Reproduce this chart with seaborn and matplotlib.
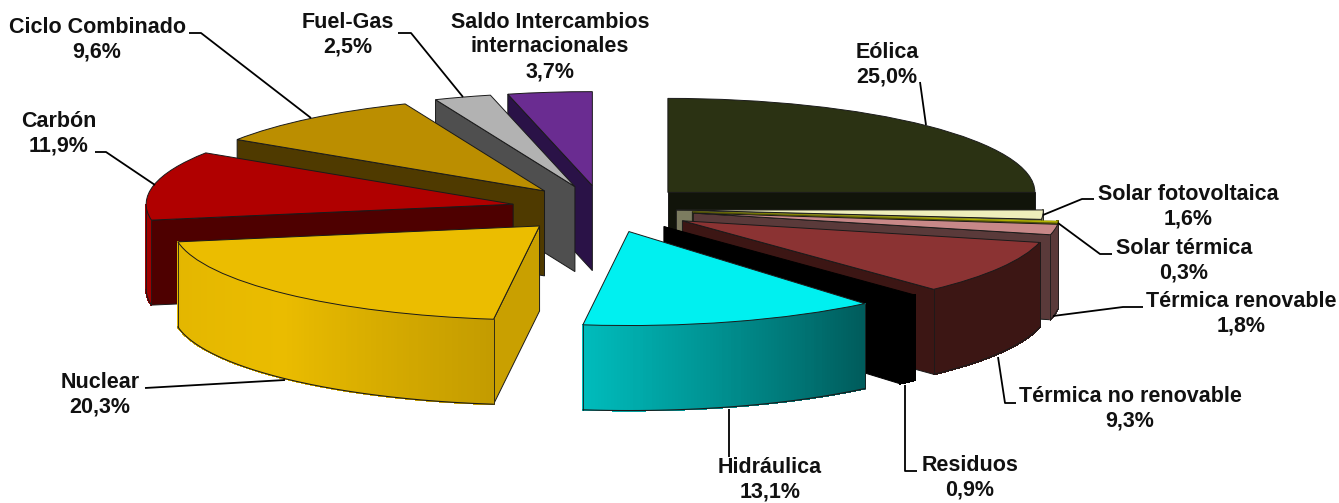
import numpy as np
import matplotlib
matplotlib.use("Agg")
import matplotlib.pyplot as plt
import seaborn as sns

# Generation mix, share in percent, clockwise from 12 o'clock
names = ["Eólica", "Solar fotovoltaica", "Solar térmica", "Térmica renovable",
         "Térmica no renovable", "Residuos", "Hidráulica", "Nuclear", "Carbón",
         "Ciclo Combinado", "Fuel-Gas", "Saldo Intercambios\ninternacionales"]
shares = [25.0, 1.6, 0.3, 1.8, 9.3, 0.9, 13.1, 20.3, 11.9, 9.6, 2.5, 3.7]
explode = [0.25, 0.2, 0.245, 0.25, 0.25, 0.25, 0.25, 0.25, 0.25, 0.25, 0.25, 0.25]

top_colors = ["#2B3213", "#EEEEBB", "#B3B300", "#C88888", "#8B3333", "#000000",
              "#00F0F0", "#EBBD00", "#B00000", "#BB8E00", "#B2B2B2", "#6A2C91"]
side_colors = ["#11140A", "#7C7C60", "#6B6B00", "#5A3A3A", "#3C1614", "#000000",
               "#005C5C", "#C9A000", "#4E0000", "#4F3A00", "#4F4F4F", "#2A1247"]
# colour stops of the curved outer wall, left to right
arc_colors = [("#11140A", "#11140A"), ("#7C7C60", "#7C7C60"), ("#6B6B00", "#6B6B00"),
              ("#5A3A3A", "#5A3A3A"), ("#3C1614", "#3C1614"), ("#000000", "#000000"),
              ("#00BCBC", "#005C5C"), ("#E3B600", "#EABC00", "#C49C00"), ("#A00000", "#A00000"),
              ("#4F3A00", "#4F3A00"), ("#4F4F4F", "#4F4F4F"), ("#2A1247", "#2A1247")]

# label centres and leader lines, in pixels
label_pos = [(887, 65), (1188, 207), (1184, 261), (1241, 314), (1130, 409), (970, 478),
             (770, 480), (100, 395), (59, 134), (97, 40), (348, 35), (550, 47)]
leaders = [[(920, 82), (926, 125)],
           [(1094, 199), (1082, 199), (1043, 215)],
           [(1112, 254), (1100, 254), (1058, 223)],
           [(1143, 307), (1123, 307), (1053, 316)],
           [(1016, 403), (1005, 403), (998, 357)],
           [(917, 471), (905, 471), (905, 385)],
           [(729, 457), (729, 409)],
           [(145, 388), (285, 380)],
           [(95, 152), (106, 152), (155, 185)],
           [(189, 33), (201, 33), (311, 118)],
           [(398, 33), (411, 33), (463, 97)]]

W, H = 1339, 503
CX, CY = 603, 209
RX, RY = 367, 94
DEPTH = 85 / RY
EDGE = "#1a1a1a"


def px(x, y):
    return (x - CX) / RX, (CY - y) / RY


sns.set_theme(style="white")
plt.rcParams["font.family"] = ["Liberation Sans", "DejaVu Sans"]

fig = plt.figure(figsize=(W / 100, H / 100), dpi=100)
ax = fig.add_axes([0, 0, 1, 1])

wedges, _ = ax.pie(shares, explode=explode, colors=top_colors, startangle=90,
                   counterclock=False, radius=1,
                   wedgeprops=dict(edgecolor=EDGE, linewidth=0.7))
ax.set_aspect("auto")
ax.set_xlim(px(0, 0)[0], px(W, 0)[0])
ax.set_ylim(px(0, H)[1], px(0, 0)[1])
ax.axis("off")
# the sliver would be all outline otherwise
wedges[2].set_edgecolor("#8A8A00")
wedges[2].set_linewidth(0.3)
wedges[5].set_edgecolor("black")


def radial_wall(cx, cy, ang, color, z):
    a = np.radians(ang)
    x = [cx, cx + np.cos(a), cx + np.cos(a), cx]
    y = [cy, cy + np.sin(a), cy + np.sin(a) - DEPTH, cy - DEPTH]
    edge = "black" if color == "#000000" else EDGE
    ax.fill(x, y, facecolor=color, edgecolor=edge, linewidth=0.7, zorder=z)


def arc_wall(cx, cy, a1, a2, colors, z):
    # only the lower half of the rim faces the viewer
    lo, hi = max(a1, -180), min(a2, 0)
    if a1 >= 0:
        lo, hi = max(a1 - 360, -180), min(a2 - 360, 0)
    if hi <= lo:
        return
    n = max(int((hi - lo) * 2), 2)
    angs = np.radians(np.linspace(lo, hi, n + 1))
    shades = sns.blend_palette(list(colors), n)
    xs, ys = cx + np.cos(angs), cy + np.sin(angs)
    for k in range(n):
        ax.fill([xs[k], xs[k + 1], xs[k + 1], xs[k]],
                [ys[k], ys[k + 1], ys[k + 1] - DEPTH, ys[k] - DEPTH],
                facecolor=shades[k], edgecolor=shades[k], linewidth=0.8,
                antialiased=False, zorder=z)
    edge = "black" if colors[0] == "#000000" else EDGE
    ax.plot(xs, ys - DEPTH, color=edge, lw=0.8, zorder=z + 0.5)
    ax.plot(xs[[0, 0]], [ys[0], ys[0] - DEPTH], color=edge, lw=0.6, zorder=z + 0.5)
    ax.plot(xs[[-1, -1]], [ys[-1], ys[-1] - DEPTH], color=edge, lw=0.6, zorder=z + 0.5)


n = len(shares)
for i, w in enumerate(wedges):
    # back slices first: both sides of the pie run towards the front
    rank = i if i < 7 else n - i
    z = 10 * (rank + 1)
    cx, cy = w.center
    if np.cos(np.radians(w.theta2)) < -1e-6:
        radial_wall(cx, cy, w.theta2, side_colors[i], z)
    if np.cos(np.radians(w.theta1)) > 1e-6:
        radial_wall(cx, cy, w.theta1, side_colors[i], z)
    arc_wall(cx, cy, w.theta1, w.theta2, arc_colors[i], z + 1)
    w.set_zorder(z + 3)

for name, share, (tx, ty) in zip(names, shares, label_pos):
    label = f"{name}\n{share:.1f}%".replace(".", ",")
    x, y = px(tx, ty)
    ax.text(x, y, label, ha="center", va="center", fontsize=15.5, fontweight="bold",
            color="#111111", linespacing=1.22, zorder=300)

for line in leaders:
    pts = np.array([px(*p) for p in line])
    ax.plot(pts[:, 0], pts[:, 1], color="black", lw=1.3, zorder=200, solid_capstyle="butt")

fig.savefig("out.png", dpi=100, facecolor="white")
